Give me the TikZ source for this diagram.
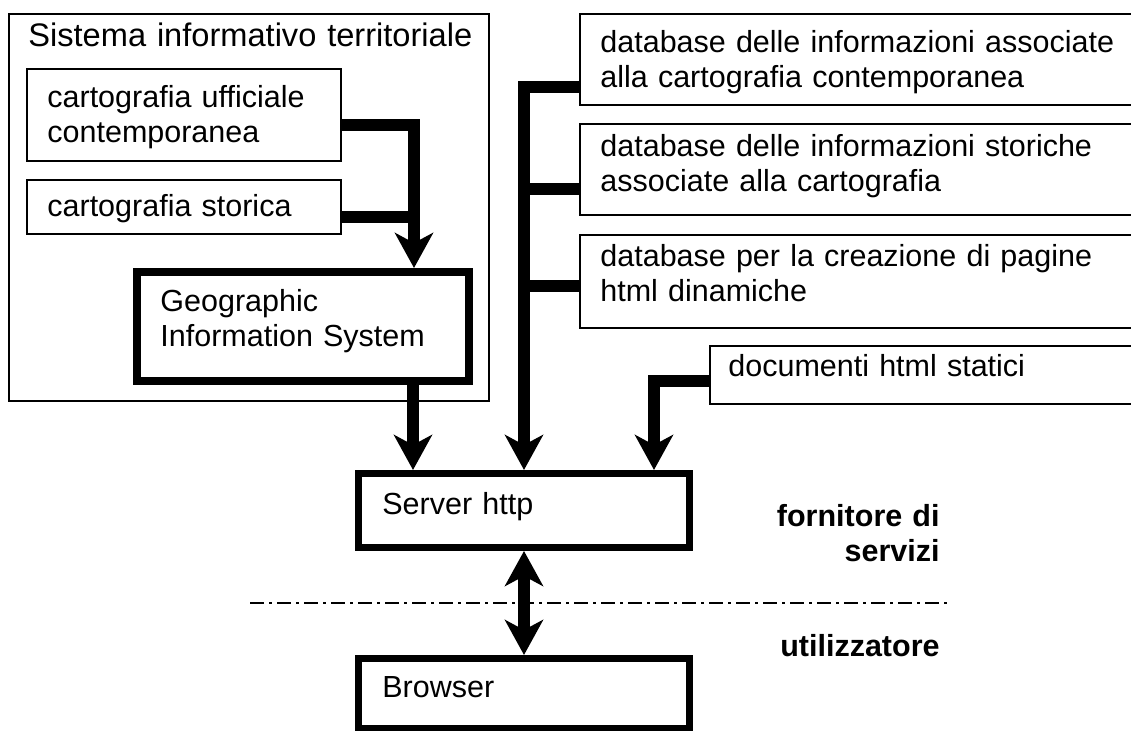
\documentclass[tikz,border=0pt]{standalone}
\usepackage{fontspec}
\setmainfont{Liberation Sans}
\usetikzlibrary{arrows.meta}
\tikzset{bigtip/.tip={Stealth[length=17.5pt,width=19pt,inset=5pt]}}
\begin{document}
\begin{tikzpicture}[x=0.5pt,y=-0.5pt,
  thinbox/.style={draw,line width=0.8pt,anchor=north west,inner sep=0pt},
  thickbox/.style={draw,line width=4pt,anchor=north west,inner sep=0pt},
  midbox/.style={draw,line width=3.5pt,anchor=north west,inner sep=0pt},
  txt/.style={inner sep=0pt,anchor=base west,align=left,font=\fontsize{15.25pt}{17.5pt}\selectfont},
  lbl/.style={inner sep=0pt,anchor=base east,align=right,text width=85pt,font=\fontsize{15.25pt}{17.5pt}\selectfont\bfseries},
  conn/.style={line width=6pt},
  arr/.style={line width=6pt,-bigtip},
  darr/.style={line width=6pt,bigtip-bigtip},
  sepline/.style={line width=1pt,dash pattern=on 7pt off 2.5pt on 1.5pt off 2.5pt}
]
\useasboundingbox (0,0) rectangle (1131,731);
\clip (0,0) rectangle (1131,731);
\fill[white] (0,0) rectangle (1131,731);

% left group
\node[thinbox,minimum width=240pt,minimum height=193.5pt] (sys) at (8,13) {};
\node[txt,text width=232pt,font=\fontsize{16.3pt}{18.5pt}\selectfont] (systxt) at (28,47) {Sistema informativo territoriale};
\node[thinbox,minimum width=157pt,minimum height=46pt] (c1) at (26,68) {};
\node[txt,text width=140pt] (c1txt) at (47,108) {cartografia ufficiale\\contemporanea};
\node[thinbox,minimum width=157pt,minimum height=27pt] (c2) at (26,179) {};
\node[txt,text width=130pt] (c2txt) at (47,217) {cartografia storica};
\node[thickbox,minimum width=166pt,minimum height=54.5pt] (gis) at (133,268) {};
\node[txt,text width=135pt] (gistxt) at (160,312) {Geographic\\Information System};

% right boxes
\node[thinbox,minimum width=285.5pt,minimum height=45.5pt] (b1) at (579,13) {};
\node[txt,text width=265pt] (b1txt) at (600,53) {database delle informazioni associate\\alla cartografia contemporanea};
\node[thinbox,minimum width=285.5pt,minimum height=45.5pt] (b2) at (579,123) {};
\node[txt,text width=265pt] (b2txt) at (600,157) {database delle informazioni storiche\\associate alla cartografia};
\node[thinbox,minimum width=285.5pt,minimum height=46.5pt] (b3) at (579,234) {};
\node[txt,text width=265pt] (b3txt) at (600,267) {database per la creazione di pagine\\html dinamiche};
\node[thinbox,minimum width=220.5pt,minimum height=29pt] (b4) at (709,345) {};
\node[txt,text width=160pt] (b4txt) at (728,377) {documenti html statici};

% server and browser
\node[midbox,minimum width=165.5pt,minimum height=37pt] (server) at (355,470) {};
\node[txt,text width=100pt] (servertxt) at (382,515) {Server http};
\node[midbox,minimum width=165.5pt,minimum height=35pt] (browser) at (355,655) {};
\node[txt,text width=100pt] (browsertxt) at (382,698) {Browser};

% labels
\node[lbl] (forn) at (940,527) {fornitore di\\servizi};
\node[lbl] (util) at (940,657) {utilizzatore};

% connectors left
\coordinate (gin) at ([xshift=55.5pt]gis.north);
\coordinate (gout) at ([xshift=55pt]gis.south);
\coordinate (c1e) at ([yshift=-5pt]c1.east);
\coordinate (c2e) at ([yshift=-5pt]c2.east);
\draw[arr] (c1e) -| (gin);
\draw[conn] (c2e) -- (c2e -| gin);
\draw[arr] (gout) -- (gout |- server.north);

% bus
\coordinate (busx) at (524,0);
\coordinate (b1w) at ([yshift=-14pt]b1.west);
\coordinate (b2w) at ([yshift=-10pt]b2.west);
\coordinate (b3w) at ([yshift=-2.5pt]b3.west);
\draw[arr] (b1w) -| (server.north -| busx);
\draw[conn] (b2w) -- (b2w -| busx);
\draw[conn] (b3w) -- (b3w -| busx);

% static documents
\coordinate (docx) at (654,0);
\coordinate (b4w) at ([yshift=-3pt]b4.west);
\draw[arr] (b4w) -| (server.north -| docx);

% server <-> browser
\draw[darr] (server.south) -- (browser.north);

% separator
\coordinate (sepl) at (250,603);
\coordinate (sepr) at (948,603);
\draw[sepline] (sepl) -- (sepr);
\end{tikzpicture}
\end{document}
